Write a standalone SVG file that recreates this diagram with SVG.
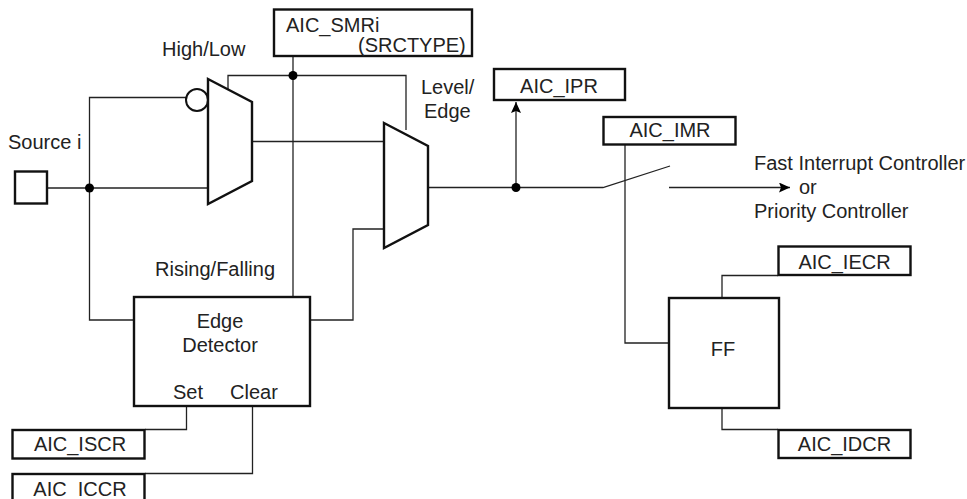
<svg xmlns="http://www.w3.org/2000/svg" width="967" height="499" viewBox="0 0 967 499">
<style>
.b{fill:#fff;stroke:#111;stroke-width:2.4}
.c{fill:none;stroke:#222;stroke-width:1.3}
.d{fill:#000}
text{font-family:"Liberation Sans",Arial,sans-serif;font-size:20px;fill:#222}
.m{text-anchor:middle}
</style>
<defs><marker id="a" markerUnits="userSpaceOnUse" markerWidth="13" markerHeight="11" refX="11" refY="5" orient="auto"><path d="M0 0L11 5L0 10L2 5Z" fill="#000"/></marker></defs>
<g id="connectors">
<path class="c" d="M293 57V296"/>
<path class="c" d="M228 93V75.500H406V130"/>
<path class="c" d="M47 188H208"/>
<path class="c" d="M186 97.500H89.500V320H134"/>
<path class="c" d="M252 141.500H384"/>
<path class="c" d="M310 320H353V229H384"/>
<path class="c" d="M428 187.500H603L670 166"/>
<path class="c" d="M516 187.500V102" marker-end="url(#a)"/>
<path class="c" d="M669 187.500H790" marker-end="url(#a)"/>
<path class="c" d="M625 145V343H669"/>
<path class="c" d="M722 297V275.500H778"/>
<path class="c" d="M722 408V429.500H778"/>
<path class="c" d="M186.500 407V429.500H145"/>
<path class="c" d="M252.500 407V473.500H145"/>
<circle class="d" cx="293" cy="75.500" r="4.500"/>
<circle class="d" cx="89.500" cy="188" r="4.500"/>
<circle class="d" cx="516" cy="187.500" r="4.500"/>
</g>
<g id="source"><rect class="b" x="15" y="171.500" width="32" height="32"/><text x="8" y="149">Source i</text></g>
<g id="highlow"><circle cx="197" cy="100" r="11" fill="#fff" stroke="#111" stroke-width="2"/><path class="b" d="M208 79L252 102V181L208 204Z"/><text x="162" y="56">High/Low</text></g>
<g id="leveledge"><path class="b" d="M384 123L428 146V225L384 248Z"/><text x="421" y="94">Level/</text><text x="424" y="118">Edge</text></g>
<g id="smr"><rect class="b" x="274" y="9.500" width="198" height="46.500"/><text x="286" y="32">AIC_SMRi</text><text x="358" y="52">(SRCTYPE)</text></g>
<g id="ipr"><rect class="b" x="494" y="69" width="131" height="31"/><text class="m" x="559" y="93">AIC_IPR</text></g>
<g id="imr"><rect class="b" x="603.500" y="117" width="132" height="27.500"/><text class="m" x="670" y="137">AIC_IMR</text></g>
<g id="output"><text x="754" y="170">Fast Interrupt Controller</text><text x="799" y="194">or</text><text x="754" y="218">Priority Controller</text></g>
<g id="edge"><text x="155" y="276">Rising/Falling</text><rect class="b" x="134" y="297" width="176" height="109"/><text class="m" x="220" y="328">Edge</text><text class="m" x="220" y="352">Detector</text><text x="173" y="399">Set</text><text x="230" y="399">Clear</text></g>
<g id="iscr"><rect class="b" x="12.500" y="430" width="132" height="28.500"/><text class="m" x="80" y="451">AIC_ISCR</text></g>
<g id="iccr"><rect class="b" x="12.500" y="474" width="132" height="30"/><text class="m" x="80" y="496">AIC_ICCR</text></g>
<g id="ff"><rect class="b" x="669" y="298" width="110" height="110"/><text class="m" x="723" y="356">FF</text></g>
<g id="iecr"><rect class="b" x="778.500" y="246.500" width="132" height="28.500"/><text class="m" x="844.500" y="269">AIC_IECR</text></g>
<g id="idcr"><rect class="b" x="778.500" y="430" width="132" height="28"/><text class="m" x="844.500" y="451">AIC_IDCR</text></g>
</svg>
